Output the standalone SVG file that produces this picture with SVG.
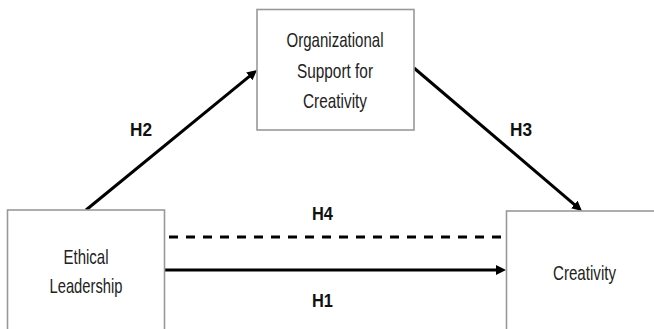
<svg xmlns="http://www.w3.org/2000/svg" width="654" height="329" viewBox="0 0 654 329">
<style>
.box{fill:#fff;stroke:#999;stroke-width:1.6}
.t{font-family:"Liberation Sans",Arial,sans-serif;font-size:21px;fill:#222;text-anchor:middle}
.h{font-family:"Liberation Sans",Arial,sans-serif;font-size:17.5px;font-weight:bold;fill:#111}
.ln{stroke:#000;stroke-width:3;fill:none}
</style>
<defs>
<marker id="ah" markerUnits="userSpaceOnUse" markerWidth="11" markerHeight="11" refX="4" refY="5" orient="auto">
<path d="M0,0 L10,5 L0,10 z" fill="#000"/>
</marker>
</defs>
<rect width="654" height="329" fill="#fff"/>
<g id="edges">
<line class="ln" x1="86" y1="210" x2="252.4" y2="73.8" marker-end="url(#ah)"/>
<line class="ln" x1="414" y1="68" x2="577.4" y2="207.1" marker-end="url(#ah)"/>
<line class="ln" x1="169" y1="237" x2="502" y2="237" stroke-dasharray="9 8"/>
<line class="ln" x1="165" y1="270" x2="500" y2="270" marker-end="url(#ah)"/>
<text class="h" x="130" y="136" textLength="22" lengthAdjust="spacingAndGlyphs">H2</text>
<text class="h" x="510" y="136" textLength="22" lengthAdjust="spacingAndGlyphs">H3</text>
<text class="h" x="312" y="220" textLength="21" lengthAdjust="spacingAndGlyphs">H4</text>
<text class="h" x="312" y="307" textLength="21" lengthAdjust="spacingAndGlyphs">H1</text>
</g>
<g id="ethical-leadership">
<rect class="box" x="7.5" y="210" width="157" height="130"/>
<text class="t" x="86" y="264" textLength="45" lengthAdjust="spacingAndGlyphs">Ethical</text>
<text class="t" x="86" y="293" textLength="73" lengthAdjust="spacingAndGlyphs">Leadership</text>
</g>
<g id="org-support">
<rect class="box" x="257" y="9.5" width="157" height="120.5"/>
<text class="t" x="335" y="47" textLength="97" lengthAdjust="spacingAndGlyphs">Organizational</text>
<text class="t" x="335" y="78" textLength="76" lengthAdjust="spacingAndGlyphs">Support for</text>
<text class="t" x="335" y="108" textLength="64" lengthAdjust="spacingAndGlyphs">Creativity</text>
</g>
<g id="creativity">
<rect class="box" x="506.5" y="211" width="160" height="130"/>
<text class="t" x="584.5" y="280" textLength="63" lengthAdjust="spacingAndGlyphs">Creativity</text>
</g>
</svg>
